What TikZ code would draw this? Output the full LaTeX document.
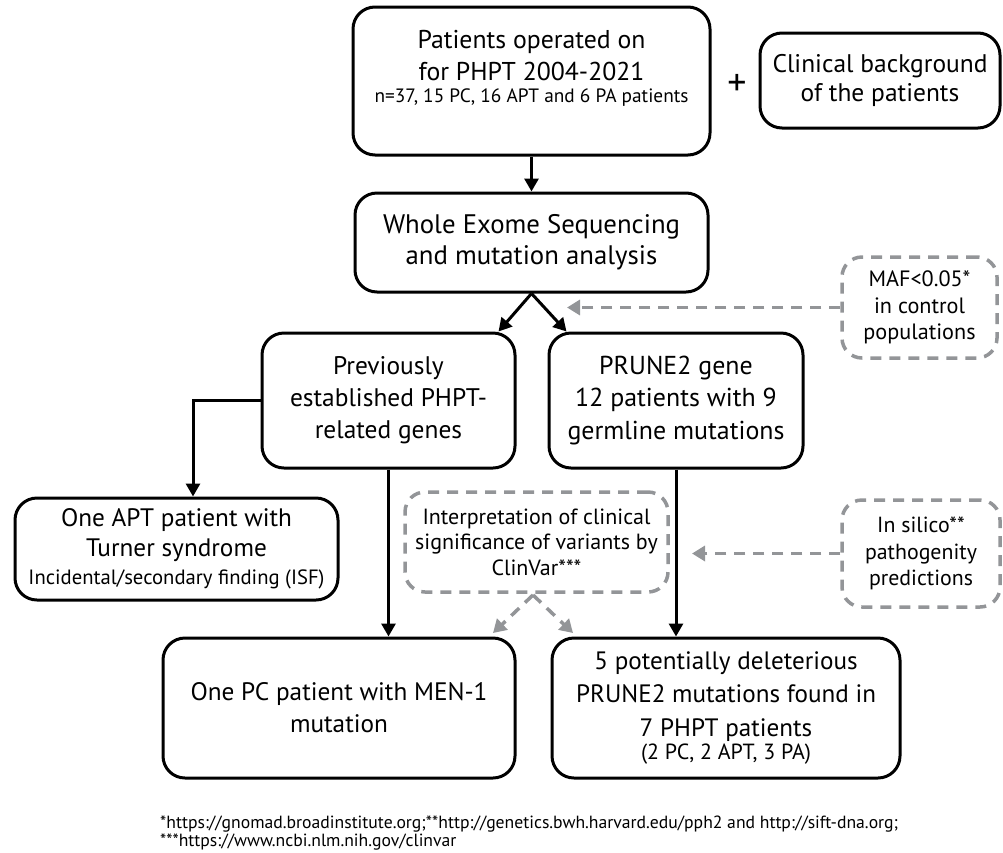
\documentclass[tikz,border=0pt]{standalone}
\usepackage{fontspec}
\setmainfont{PT Sans}
\usetikzlibrary{arrows.meta}
\definecolor{dgray}{HTML}{939598}
\newlength\fitlen
\newcommand\fitsize[3]{%
  \settowidth\fitlen{\normalfont\fontsize{20}{24}\selectfont #2}%
  \pgfmathsetmacro#1{20*#3/\fitlen}}
\begin{document}
\fitsize\szTop{Patients operated on}{228}%
\fitsize\szClin{Clinical background}{215}%
\fitsize\szWes{Whole Exome Sequencing}{297}%
\fitsize\szPrev{established PHPT-}{197}%
\fitsize\szPrune{germline mutations}{217}%
\fitsize\szApt{One APT patient with}{231}%
\fitsize\szMen{One PC patient with MEN-1}{297}%
\fitsize\szFive{PRUNE2 mutations found in}{300}%
\fitsize\szMaf{MAF<0.05*}{102}%
\fitsize\szSil{pathogenity}{112}%
\fitsize\szCv{Interpretation of clinical}{228}%
\fitsize\szFoot{*https://gnomad.broadinstitute.org;**http://genetics.bwh.harvard.edu/pph2 and http://sift-dna.org;}{738}%
\begin{tikzpicture}[x=1pt,y=-1pt,
  box/.style={draw=black, line width=3pt, rounded corners=22pt, align=center, inner sep=0pt},
  dbox/.style={draw=dgray, line width=3.5pt, dash pattern=on 11pt off 8pt, rounded corners=20pt, align=center, inner sep=0pt},
  txt/.style={align=center, inner sep=0pt},
  arr/.style={line width=3pt, -{Triangle[length=13pt,width=14pt]}},
  darr/.style={draw=dgray, line width=3.5pt, dash pattern=on 11pt off 8pt, -{Triangle[length=13pt,width=15pt]}},
]
\useasboundingbox (0,0) rectangle (1003,852);

% boxes
\node[box, minimum width=357pt, minimum height=148pt] (top) at (531.5,81) {};
\node[txt, font=\fontsize{\szTop}{32}\selectfont] (toptext) at (531.5,56) {Patients operated on\\for PHPT 2004-2021};
\node[txt, font=\fontsize{20}{26}\selectfont] (topsmall) at (531.5,98) {\resizebox{314pt}{!}{n=37, 15 PC, 16 APT and 6 PA patients}};
\node[font=\fontsize{38}{38}\selectfont, inner sep=0pt] (plus) at (737,85) {+};
\node[box, font=\fontsize{\szClin}{28.5}\selectfont, minimum width=240pt, minimum height=95pt] (clin) at (880,80.5) {Clinical background\\of the patients};
\node[box, font=\fontsize{\szWes}{31}\selectfont, minimum width=353pt, minimum height=99pt] (wes) at (531.5,242.5) {Whole Exome Sequencing\\and mutation analysis};
\node[box, font=\fontsize{\szPrev}{32}\selectfont, minimum width=253pt, minimum height=135pt] (prev) at (388.5,400.5) {Previously\\established PHPT-\\related genes};
\node[box, font=\fontsize{\szPrune}{32.5}\selectfont, minimum width=254pt, minimum height=135pt] (prune) at (676,400.5) {PRUNE2 gene\\12 patients with 9\\germline mutations};
\node[dbox, font=\fontsize{\szMaf}{26.5}\selectfont, minimum width=155pt, minimum height=101pt] (maf) at (919.5,307.5) {MAF<0.05*\\in control\\populations};
\node[box, font=\fontsize{\szApt}{30}\selectfont, minimum width=323pt, minimum height=102pt] (apt) at (176.5,549) {One APT patient with\\Turner syndrome\\[-2pt]{\fontsize{18.5}{24}\selectfont\resizebox{296pt}{!}{Incidental/secondary finding (ISF)}}};
\node[dbox, font=\fontsize{\szCv}{25.5}\selectfont, minimum width=263pt, minimum height=100pt] (clinvar) at (536.5,542) {Interpretation of clinical\\significance of variants by\\ClinVar***};
\node[dbox, font=\fontsize{\szSil}{26.5}\selectfont, minimum width=158pt, minimum height=107pt] (silico) at (921,553.5) {In silico**\\pathogenity\\predictions};
\node[box, font=\fontsize{\szMen}{32}\selectfont, minimum width=352pt, minimum height=140pt] (men) at (339,708) {One PC patient with MEN-1\\mutation};
\node[box, font=\fontsize{\szFive}{33.5}\selectfont, minimum width=348pt, minimum height=140pt] (five) at (726,708) {5 potentially deleterious\\PRUNE2 mutations found in\\7 PHPT patients\\[-10pt]{\fontsize{17.5}{23}\selectfont\resizebox{170pt}{!}{(2 PC, 2 APT, 3 PA)}}};

\node[anchor=north west, align=left, inner sep=0pt, font=\fontsize{\szFoot}{17.5}\selectfont] (foot) at (160,816) {*https://gnomad.broadinstitute.org;**http://genetics.bwh.harvard.edu/pph2 and http://sift-dna.org;\\***https://www.ncbi.nlm.nih.gov/clinvar};

% coordinates
\coordinate (mafend) at (567,307.5);
\coordinate (silend) at (692,553.5);
\coordinate (cvstart) at (533,595);
\coordinate (cvl) at (493,633);
\coordinate (cvr) at (573,633);

% connectors
\draw[arr] (top.south) -- (wes.north);
\draw[arr] (wes.south) -- ([xshift=-18pt]prev.north east);
\draw[arr] (wes.south) -- ([xshift=19pt]prune.north west);
\draw[arr] (prev.west) -| ([xshift=16.5pt]apt.north);
\draw[arr] (prev.south) -- (prev.south |- men.north);
\draw[arr] (prune.south) -- (prune.south |- five.north);
\draw[darr] (maf.west) -- (mafend);
\draw[darr] (silico.west) -- (silend);
\draw[darr] (cvstart) -- (cvl);
\draw[darr] (cvstart) -- (cvr);
\end{tikzpicture}
\end{document}
